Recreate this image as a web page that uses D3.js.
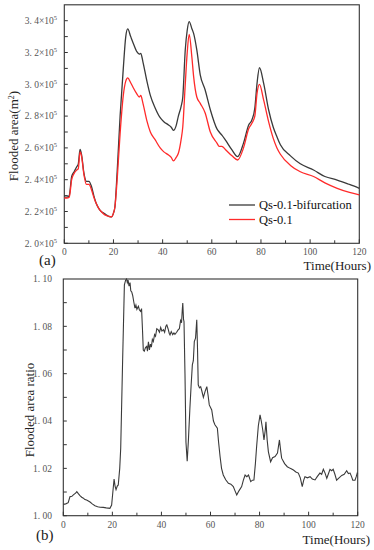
<!DOCTYPE html>
<html><head><meta charset="utf-8">
<script src="https://cdn.jsdelivr.net/npm/d3@7"></script>
<style>body{margin:0;background:#fff}svg{display:block}text{font-family:"Liberation Serif","Times New Roman","DejaVu Serif",serif;white-space:pre}</style>
</head><body>
<svg id="c" width="374" height="550"></svg>
<script>
// ---------- DATA ----------
// Panel (a): flooded area, in units of 1e5 m^2
const hoursA = [0,1,2,3,4,5,5.7,6.4,7,8,9,10,11,12,13,14,15,16,17,18,19.3,20,20.6,21.5,22.7,24,25,25.8,27,28,29.5,30.5,31.1,32,33.6,35,37,39,40.5,42.4,43.5,44.4,45.5,46.4,47.5,48.2,49.2,50,50.8,51.9,52.6,53.9,55.3,57.3,59.4,62.1,63,64.1,65.5,68.2,70.5,72.9,75,76.3,77.5,78.4,79.4,81.1,83.1,85,86.5,87.9,92,96,101.4,106,111,116,120];
const bifurcation = [2.29,2.29,2.30,2.42,2.45,2.48,2.50,2.59,2.56,2.44,2.39,2.39,2.36,2.30,2.25,2.22,2.20,2.19,2.18,2.17,2.167,2.19,2.23,2.45,2.80,3.10,3.30,3.348,3.30,3.26,3.205,3.19,3.195,3.14,3.02,2.93,2.85,2.79,2.765,2.744,2.73,2.71,2.74,2.80,2.86,2.92,3.216,3.34,3.394,3.35,3.32,3.216,3.06,2.964,2.84,2.72,2.70,2.68,2.65,2.587,2.545,2.63,2.744,2.775,2.85,3.006,3.104,3.006,2.84,2.73,2.67,2.62,2.55,2.50,2.461,2.42,2.398,2.37,2.346];
const qs01 = [2.285,2.285,2.29,2.40,2.44,2.46,2.47,2.575,2.55,2.43,2.37,2.37,2.34,2.29,2.25,2.22,2.20,2.185,2.175,2.17,2.167,2.19,2.23,2.40,2.69,2.93,3.02,3.04,3.01,2.98,2.94,2.92,2.93,2.88,2.77,2.70,2.65,2.60,2.575,2.555,2.54,2.518,2.54,2.566,2.65,2.733,3.00,3.20,3.314,3.17,3.05,2.92,2.88,2.82,2.70,2.63,2.61,2.61,2.59,2.55,2.524,2.60,2.72,2.755,2.80,2.943,3.00,2.90,2.765,2.66,2.60,2.56,2.49,2.45,2.42,2.38,2.346,2.32,2.304];
const seriesNames = ["Qs-0.1-bifurcation","Qs-0.1"];
const yTicksA = [2.0,2.2,2.4,2.6,2.8,3.0,3.2,3.4];
const yTickLabelsA = ["2. 0","2. 2","2. 4","2. 6","2. 8","3. 0","3. 2","3. 4"];
const xTicks = [0,20,40,60,80,100,120];

// Panel (b): flooded area ratio
const hoursB = [0,1,2,2.7,3.5,4.1,5,5.5,6.2,6.8,7.5,8.2,8.8,9.5,10.2,10.9,11.8,12.9,14,15,16.3,17.5,19,19.7,20.2,20.7,21.1,21.5,22,22.4,23,23.4,24.2,24.9,25.4,25.8,26.1,26.4,26.8,27.2,27.5,27.9,28.3,28.7,29.2,29.6,30,30.6,31,31.5,31.9,32.3,32.6,33,33.5,34,34.3,34.7,35.1,35.5,35.9,36.3,36.7,37.2,37.6,38.1,38.7,39.2,39.7,40.2,40.8,41.3,41.8,42.2,42.7,43.2,43.5,44,44.6,45.1,45.5,46.2,46.8,47.3,47.8,48.2,48.5,48.7,49,49.2,49.6,50,50.5,51,51.6,52.1,52.6,53,53.4,53.9,54.4,54.7,55,55.5,56,56.4,57.1,57.8,58.5,59,59.5,60.5,61.2,61.8,62.8,63.3,63.9,64.5,65.2,66.2,67.3,68.3,69.3,70,70.7,71.6,72.7,73.4,74.1,74.8,75.5,76.4,77.1,77.7,78.3,78.8,79.5,80.2,80.7,81.3,81.8,82.3,82.6,83.1,83.6,84.5,85.3,86.3,87.3,88.1,88.6,89,90.2,91.3,92.5,93.8,94.8,95.8,96.6,97.4,98,98.5,99.5,100.6,101.5,102.6,103.5,104.6,105.3,106,106.7,107.4,108,108.7,109.4,110,110.7,111.4,112.4,113.5,114.5,115.5,116.2,116.9,117.5,118,118.9,119.4,119.8,120];
const ratio = [1.0048,1.005,1.0055,1.008,1.0082,1.0088,1.0095,1.0102,1.0092,1.0085,1.0078,1.0074,1.0068,1.0066,1.0062,1.0058,1.005,1.0042,1.0038,1.0036,1.0035,1.0033,1.0031,1.0045,1.010,1.0155,1.0125,1.011,1.0125,1.013,1.020,1.0285,1.0665,1.0975,1.0995,1.1,1.0985,1.0995,1.097,1.0985,1.095,1.0945,1.093,1.0905,1.0877,1.089,1.0872,1.0885,1.087,1.0863,1.0875,1.078,1.070,1.0695,1.071,1.0715,1.0695,1.0735,1.0700,1.0725,1.0712,1.0745,1.0736,1.0765,1.0758,1.0790,1.0785,1.0775,1.0795,1.0780,1.0786,1.0775,1.0800,1.0806,1.0790,1.0770,1.0764,1.0778,1.0765,1.0772,1.0766,1.0775,1.0785,1.079,1.0825,1.0815,1.0870,1.0898,1.0830,1.082,1.060,1.031,1.023,1.032,1.0454,1.055,1.0637,1.0655,1.0736,1.0750,1.0828,1.071,1.0553,1.054,1.0545,1.053,1.050,1.0525,1.0545,1.051,1.0468,1.0447,1.040,1.0384,1.037,1.031,1.025,1.020,1.0172,1.0152,1.0137,1.0133,1.0123,1.0105,1.0088,1.0105,1.0123,1.0150,1.0172,1.0165,1.0172,1.0144,1.0150,1.0151,1.0220,1.0292,1.0380,1.0426,1.0400,1.0362,1.032,1.036,1.0397,1.032,1.027,1.0228,1.0245,1.025,1.0265,1.032,1.0275,1.0243,1.022,1.0207,1.0200,1.0193,1.0185,1.018,1.0160,1.0123,1.0150,1.0165,1.0160,1.0165,1.0155,1.0151,1.0165,1.018,1.0175,1.0196,1.018,1.0158,1.0175,1.0196,1.0190,1.0196,1.0175,1.015,1.016,1.017,1.0175,1.019,1.0178,1.018,1.0165,1.015,1.015,1.0165,1.018,1.0175];
const yTicksB = [1.00,1.02,1.04,1.06,1.08,1.10];
const yTickLabelsB = ["1. 00","1. 02","1. 04","1. 06","1. 08","1. 10"];

// ---------- DRAW ----------
const svg = d3.select("#c");
const axisCol = "#333";

function frame(g, x, y, minorX, minorY) {
  const [x0, x1] = x.range(), [y0, y1] = y.range();
  g.append("rect").attr("x", x0).attr("y", y1).attr("width", x1 - x0).attr("height", y0 - y1)
    .attr("fill", "none").attr("stroke", axisCol).attr("stroke-width", 1.1);
  minorX.forEach(v => {
    const major = xTicks.includes(v);
    g.append("line").attr("x1", x(v)).attr("x2", x(v)).attr("y1", y0).attr("y2", y0 - (major ? 4 : 3))
      .attr("stroke", axisCol).attr("stroke-width", 1);
  });
  minorY.forEach(v => {
    g.append("line").attr("x1", x0).attr("x2", x0 + 3.5).attr("y1", y(v)).attr("y2", y(v))
      .attr("stroke", axisCol).attr("stroke-width", 1);
  });
  xTicks.forEach(v => {
    g.append("text").attr("x", x(v)).attr("y", y0 + 12).attr("text-anchor", "middle")
      .attr("font-size", 9.5).attr("fill", "#555").text(v);
  });
}

// Panel (a)
const xA = d3.scaleLinear().domain([0, 120]).range([64.3, 359.3]);
const yA = d3.scaleLinear().domain([2.0, 3.5]).range([243.3, 4.8]);
const gA = svg.append("g");
const minorXs = d3.range(0, 121, 10);
frame(gA, xA, yA, minorXs, d3.range(2.0, 3.45, 0.1).map(v => +v.toFixed(2)));
yTicksA.forEach((v, i) => {
  const t = gA.append("text").attr("x", 57).attr("y", yA(v) + 3.2).attr("text-anchor", "end")
    .attr("font-size", 9.5).attr("fill", "#555");
  t.append("tspan").text(yTickLabelsA[i] + "×10");
  t.append("tspan").attr("dy", -4).attr("font-size", 6.5).text("5");
});
const lineA = (vals) => d3.line().x((d, i) => xA(hoursA[i])).y(d => yA(d)).curve(d3.curveMonotoneX)(vals);
gA.append("path").attr("d", lineA(bifurcation)).attr("fill", "none").attr("stroke", "#3a3a3a").attr("stroke-width", 1.3);
gA.append("path").attr("d", lineA(qs01)).attr("fill", "none").attr("stroke", "#ff2a2a").attr("stroke-width", 1.3);
// legend
const legCols = ["#3a3a3a", "#ff2a2a"];
seriesNames.forEach((n, i) => {
  const yy = 205 + i * 14.5;
  gA.append("line").attr("x1", 229).attr("x2", 255).attr("y1", yy).attr("y2", yy)
    .attr("stroke", legCols[i]).attr("stroke-width", 1.3);
  gA.append("text").attr("x", 259).attr("y", yy + 4).attr("font-size", 12.5)
    .attr("fill", "#111").text(n);
});
gA.append("text").attr("transform", "translate(18,136) rotate(-90)").attr("text-anchor", "middle")
  .attr("font-size", 13).attr("fill", "#222")
  .call(t => { t.append("tspan").text("Flooded area(m"); t.append("tspan").attr("dy", -4).attr("font-size", 8).text("2"); t.append("tspan").attr("dy", 4).text(")"); });
svg.append("text").attr("x", 371).attr("y", 270).attr("text-anchor", "end")
  .attr("font-size", 13).attr("fill", "#222").text("Time(Hours)");
svg.append("text").attr("x", 39).attr("y", 265).attr("font-size", 15)
  .attr("fill", "#222").text("(a)");

// Panel (b)
const xB = d3.scaleLinear().domain([0, 120]).range([63.3, 357.7]);
const yB = d3.scaleLinear().domain([1.0, 1.1]).range([515.7, 279]);
const gB = svg.append("g");
frame(gB, xB, yB, minorXs, d3.range(1.0, 1.095, 0.01).map(v => +v.toFixed(3)));
yTicksB.forEach((v, i) => {
  gB.append("text").attr("x", 52).attr("y", yB(v) + 3.2).attr("text-anchor", "end")
    .attr("font-size", 9.5).attr("fill", "#555").text(yTickLabelsB[i]);
});
gB.append("path").attr("d", d3.line().x((d, i) => xB(hoursB[i])).y(d => yB(d))(ratio))
  .attr("fill", "none").attr("stroke", "#3a3a3a").attr("stroke-width", 1.1);
gB.append("text").attr("transform", "translate(34,410) rotate(-90)").attr("text-anchor", "middle")
  .attr("font-size", 13).attr("fill", "#222").text("Flooded area ratio");
svg.append("text").attr("x", 370).attr("y", 544).attr("text-anchor", "end")
  .attr("font-size", 13).attr("fill", "#222").text("Time(Hours)");
svg.append("text").attr("x", 36).attr("y", 540).attr("font-size", 15)
  .attr("fill", "#222").text("(b)");
</script>
</body></html>
